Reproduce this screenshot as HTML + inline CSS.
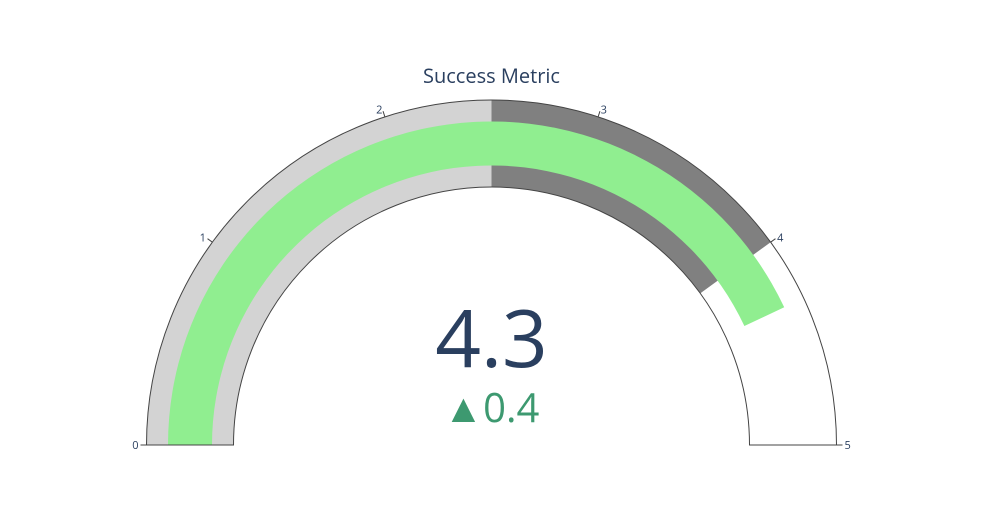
<!DOCTYPE html>
<html><head><meta charset="utf-8">
<style>
html,body{margin:0;padding:0;background:#fff;}
svg{display:block;font-family:"Open Sans","Liberation Sans",sans-serif;}
</style></head>
<body>
<svg id="chart" width="983" height="525" viewBox="0 0 983 525" xmlns="http://www.w3.org/2000/svg">
<rect width="983" height="525" fill="#fff"/>
<text x="491.5" y="83" text-anchor="middle" font-size="20" fill="#2a3f5f">Success Metric</text>
<g id="gauge"></g>
<text id="valueText" x="491.5" y="367" text-anchor="middle" font-size="80" fill="#2a3f5f"></text>
<text id="deltaText" x="491.5" y="422" text-anchor="middle" font-size="40" fill="#3D9970"></text>
</svg>
<script>
const axisRange = [0, 5];
const tickValues = [0, 1, 2, 3, 4, 5];
const tickLabels = ["0", "1", "2", "3", "4", "5"];
const stepRanges = [[0, 2.5], [2.5, 4]];
const stepColors = ["lightgray", "gray"];
const value = 4.3;
const reference = 3.9;

const cx = 491.5, cy = 445, rOut = 345, rIn = 258, barOut = 323.5, barIn = 279.5;
const NS = "http://www.w3.org/2000/svg";
const g = document.getElementById("gauge");
function ang(v){ return Math.PI * (1 - (v - axisRange[0]) / (axisRange[1] - axisRange[0])); }
function pt(r, v){ const a = ang(v); return [cx + r*Math.cos(a), cy - r*Math.sin(a)]; }
function arcPath(r1, r2, v0, v1){
  const [x0,y0]=pt(r2,v0),[x1,y1]=pt(r2,v1),[x2,y2]=pt(r1,v1),[x3,y3]=pt(r1,v0);
  return `M${x0},${y0} A${r2},${r2} 0 0 1 ${x1},${y1} L${x2},${y2} A${r1},${r1} 0 0 0 ${x3},${y3} Z`;
}
function add(tag, attrs){ const el=document.createElementNS(NS,tag); for(const k in attrs) el.setAttribute(k,attrs[k]); g.appendChild(el); return el; }

const bg = add("path",{d:arcPath(rIn,rOut,axisRange[0],axisRange[1]),fill:"#fff",stroke:"none"});


stepRanges.forEach((s,i)=>{
  const p = add("path",{d:arcPath(rIn,rOut,s[0],s[1]),fill:stepColors[i]});
  
  
});
const bar = add("path",{d:arcPath(barIn,barOut,axisRange[0],value),fill:"lightgreen"});


const border = add("path",{d:arcPath(rIn,rOut,axisRange[0],axisRange[1]),fill:"none",stroke:"#444","stroke-width":1});



tickValues.forEach((t,i)=>{
  const [x0,y0]=pt(rOut,t),[x1,y1]=pt(rOut+6,t);
  const ln = add("line",{x1:x0,y1:y0,x2:x1,y2:y1,stroke:"#444","stroke-width":1});
  
  
  const [lx,ly]=pt(rOut+8,t);
  const a = ang(t);
  const tx = add("text",{x:lx,y:ly+4,"font-size":11,fill:"#2a3f5f","text-anchor":Math.cos(a)>0.3?"start":(Math.cos(a)<-0.3?"end":"middle")});
  tx.textContent = tickLabels[i];
  
  
});
document.getElementById("valueText").textContent = value.toFixed(1);
const d = value - reference;
document.getElementById("deltaText").textContent = (d>=0?"▲":"▼") + Math.abs(d).toFixed(1);
</script>
</body></html>
